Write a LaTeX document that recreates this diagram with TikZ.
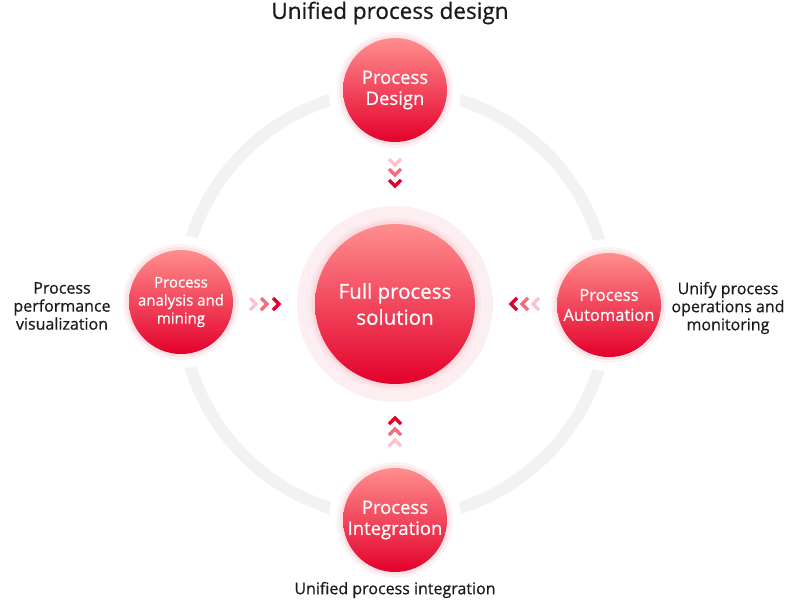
\documentclass[tikz,border=0pt]{standalone}
\usepackage{fontspec}
\setmainfont{Open Sans}[FakeBold=0.6]
\definecolor{ringgray}{HTML}{F1F2F4}
\definecolor{bubbletop}{HTML}{FF8E8E}
\definecolor{bubblebot}{HTML}{E4002B}
\definecolor{halopink}{HTML}{FDEFF1}
\definecolor{glowpink}{HTML}{F7B8C2}
\definecolor{chevlight}{HTML}{FBC3CD}
\definecolor{chevmid}{HTML}{F26D82}
\definecolor{chevdark}{HTML}{E4002B}
\definecolor{notetext}{HTML}{1A1A1A}

\tikzset{
  bubble/.style={circle, inner sep=0pt, minimum size=104pt, top color=bubbletop,
    bottom color=bubblebot, text=white, align=center},
  glow/.style={circle, inner sep=0pt, fill=glowpink, draw=none},
  note/.style={align=center, text=notetext, font=\fontsize{16}{18}\selectfont},
  chevron/.pic={\draw[pic actions, line width=3.4pt, line join=miter]
    (-6pt,-3pt) -- (0pt,3pt) -- (6pt,-3pt);}
}

\begin{document}
\begin{tikzpicture}[x=1pt,y=-1pt]
\useasboundingbox (0,0) rectangle (790,608);

% ring behind everything
\draw[ringgray, line width=12pt] (395,304) circle (214);
\foreach \p in {(395,90),(181,302),(609,305),(395,520)}
  \fill[white] \p circle (66);

% halo of the centre
\fill[halopink] (395,304) circle (98);

% soft glow under the bubbles
\foreach \p/\r in {(395,90)/52,(181,302)/52,(609,305)/52,(395,520)/52,(395,304)/80}{
  \fill[glowpink, opacity=0.18] \p circle (\r+6);
  \fill[glowpink, opacity=0.25] \p circle (\r+3);
}

\node[bubble, minimum size=160pt, font=\fontsize{20.5}{26}\selectfont] (solution) at (395,304) {Full process\\solution};
\node[bubble, font=\fontsize{18.5}{21}\selectfont] (design) at (395,90) {Process\\Design};
\node[bubble, font=\fontsize{18.5}{21}\selectfont] (integration) at (395,520) {Process\\Integration};
\node[bubble, font=\fontsize{15}{18}\selectfont] (analysis) at (181,302) {Process\\analysis and\\mining};
\node[bubble, font=\fontsize{16.5}{20}\selectfont] (automation) at (609,305) {Process\\Automation};

% chevrons towards the centre
\pic[chevlight, rotate=180] at (395,162) {chevron};
\pic[chevmid, rotate=180] at (395,172) {chevron};
\pic[chevdark, rotate=180] at (395,183) {chevron};

\pic[chevdark] at (395,421) {chevron};
\pic[chevmid] at (395,432) {chevron};
\pic[chevlight] at (395,443) {chevron};

\pic[chevlight, rotate=-90] at (253,304) {chevron};
\pic[chevmid, rotate=-90] at (264,304) {chevron};
\pic[chevdark, rotate=-90] at (276,304) {chevron};

\pic[chevdark, rotate=90] at (514,304) {chevron};
\pic[chevmid, rotate=90] at (525,304) {chevron};
\pic[chevlight, rotate=90] at (536,304) {chevron};

% outer labels
\node[note, font=\fontsize{22.5}{24}\selectfont] (designnote) at (390,13) {Unified process design};
\node[note] (analysisnote) at (62,306) {Process\\performance\\visualization};
\node[note] (automationnote) at (728,308) {Unify process\\operations and\\monitoring};
\node[note] (integrationnote) at (395,590) {Unified process integration};
\end{tikzpicture}
\end{document}
